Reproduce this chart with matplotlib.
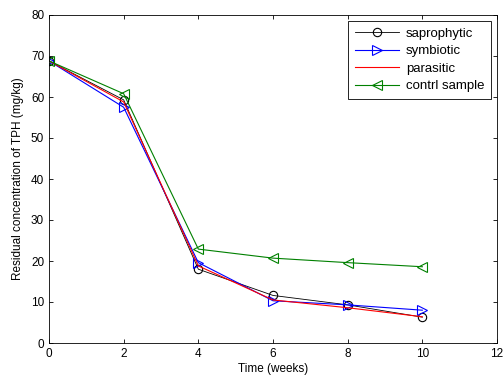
import matplotlib
matplotlib.use("Agg")
import matplotlib.pyplot as plt

plt.rcParams["font.family"] = ["Liberation Sans", "DejaVu Sans"]
plt.rcParams["font.size"] = 8.5

weeks = [0, 2, 4, 6, 8, 10]
saprophytic = [68.8, 59.3, 18.0, 11.6, 9.3, 6.3]
symbiotic = [68.8, 57.5, 19.6, 10.3, 9.3, 8.0]
parasitic = [68.8, 58.8, 18.8, 10.5, 8.6, 6.4]
control = [68.8, 60.8, 22.9, 20.7, 19.6, 18.6]

fig = plt.figure(figsize=(5.04, 3.81), dpi=100)
ax = fig.add_axes([49 / 504, 1 - 343 / 381, 448 / 504, 328 / 381])

ax.plot(weeks, saprophytic, color="black", lw=0.6, marker="o", ms=6,
        mfc="none", mec="black", mew=0.8, label="saprophytic")
ax.plot(weeks, symbiotic, color="blue", lw=0.8, marker=">", ms=7,
        mfc="none", mec="blue", mew=0.8, label="symbiotic")
ax.plot(weeks, parasitic, color="red", lw=0.8, label="parasitic")
ax.plot(weeks, control, color="green", lw=0.8, marker="<", ms=7,
        mfc="none", mec="green", mew=0.8, label="contrl sample")

ax.set_xlim(0, 12)
ax.set_ylim(0, 80)
ax.set_xticks(range(0, 13, 2))
ax.set_yticks(range(0, 81, 10))
ax.tick_params(direction="in", top=True, right=True, length=3, width=0.6)
for s in ax.spines.values():
    s.set_linewidth(0.6)

ax.set_xlabel("Time (weeks)", labelpad=2)
ax.set_ylabel("Residual concentration of TPH (mg/kg)", labelpad=5)

leg = ax.legend(loc="upper right", fancybox=False, edgecolor="black",
                framealpha=1, handlelength=3.4, handletextpad=0.5,
                borderpad=0.5, labelspacing=0.4, fontsize=9.5,
                borderaxespad=0.45)
leg.get_frame().set_linewidth(0.6)

fig.savefig("out.png", dpi=100)
